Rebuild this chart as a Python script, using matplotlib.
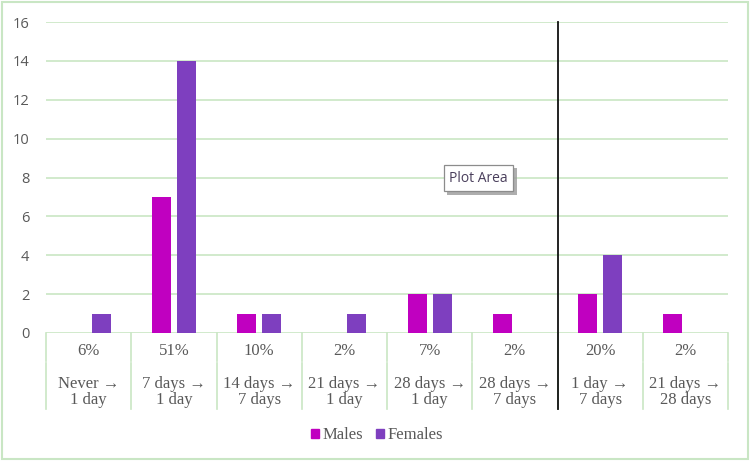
import matplotlib
matplotlib.use("Agg")
import matplotlib.pyplot as plt
import matplotlib.patheffects as pe
from matplotlib.patches import Rectangle, Patch
import numpy as np

# ---- data ----
pct_labels = ["6%", "51%", "10%", "2%", "7%", "2%", "20%", "2%"]
cat_labels = ["Never \u2192\n1 day", "7 days \u2192\n1 day", "14 days \u2192\n7 days",
              "21 days \u2192\n1 day", "28 days \u2192\n1 day", "28 days \u2192\n7 days",
              "1 day \u2192\n7 days", "21 days \u2192\n28 days"]
males = [0, 7, 1, 0, 2, 1, 2, 1]
females = [1, 14, 1, 1, 2, 0, 4, 0]
yticks = [0, 2, 4, 6, 8, 10, 12, 14, 16]

c_m = "#C000C0"
c_f = "#7E3FBF"
grid_c = "#C9E6C4"
txt_c = "#595959"
serif = ["Liberation Serif", "DejaVu Serif"]

W, H = 750, 462
fig = plt.figure(figsize=(W / 100, H / 100), dpi=100)
ax = fig.add_axes([46 / W, 1 - 333 / H, 682 / W, 311 / H])

x = np.arange(len(males))
bw = 0.223
off = 0.147
ax.bar(x - off, males, bw, color=c_m, zorder=3)
ax.bar(x + off, females, bw, color=c_f, zorder=3)

ax.set_xlim(-0.5, len(males) - 0.5)
ax.set_ylim(0, 16)
ax.set_yticks(yticks)
ax.set_yticklabels([str(v) for v in yticks], fontsize=10.5, color=txt_c,
                   fontfamily="Open Sans")
ax.tick_params(axis="y", length=0, pad=12)
ax.set_xticks([])
for s in ax.spines.values():
    s.set_visible(False)
ax.yaxis.grid(True, color=grid_c, lw=1.2, zorder=0)
ax.set_axisbelow(True)

# table below axis
tb = ax.get_xaxis_transform()
y_bot = (333 - 409) / 311
y_mid1 = (333 - 360.5) / 311
y_mid2 = (333 - 363) / 311
for i in range(len(males) + 1):
    xv = -0.5 + i
    ax.plot([xv, xv], [0, y_mid1], transform=tb, color=grid_c, lw=1.2, clip_on=False)
    ax.plot([xv, xv], [y_mid2, y_bot], transform=tb, color=grid_c, lw=1.2, clip_on=False)
for i in range(len(males)):
    ax.text(i, (333 - 351) / 311, pct_labels[i], transform=tb, ha="center", va="center",
            fontsize=12, color=txt_c, family=serif)
    ax.text(i, (333 - 392) / 311, cat_labels[i], transform=tb, ha="center", va="center",
            fontsize=12, color=txt_c, family=serif, linespacing=0.95)

# black divider line
ax.plot([5.5, 5.5], [1, y_bot], transform=tb, color="#111111", lw=1.3,
        clip_on=False, zorder=4)

# legend
handles = [Patch(color=c_m, label="Males"), Patch(color=c_f, label="Females")]
leg = fig.legend(handles=handles, loc="center", bbox_to_anchor=(377 / W, 1 - 435 / H),
                 ncol=2, frameon=False, handlelength=0.45, handleheight=0.45,
                 handletextpad=0.2, columnspacing=0.8,
                 prop={"family": serif, "size": 12})
for t in leg.get_texts():
    t.set_color(txt_c)

# "Plot Area" tooltip
t = fig.text(478.5 / W, 1 - 178 / H, "Plot Area", ha="center", va="center",
             fontsize=10, color="#4A3F5C", fontfamily="Open Sans",
             bbox=dict(boxstyle="square,pad=0.4", fc="white", ec="#8C8C8C", lw=0.9))
t.get_bbox_patch().set_path_effects([pe.SimplePatchShadow(offset=(2.5, -2.5),
                                                          shadow_rgbFace="#9A9A9A", alpha=0.8),
                                     pe.Normal()])

# outer border
fig.patches.append(Rectangle((2 / W, 3 / H), 746 / W, 457 / H, transform=fig.transFigure,
                             fill=False, ec=grid_c, lw=1.5))

fig.savefig("out.png", dpi=100)
